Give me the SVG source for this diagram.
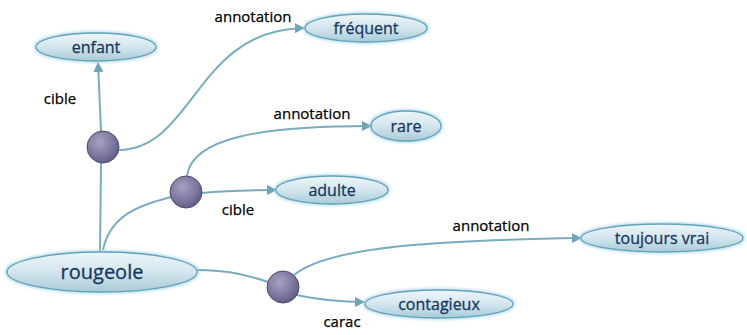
<svg xmlns="http://www.w3.org/2000/svg" width="747" height="335" viewBox="0 0 747 335">
<defs>
<linearGradient id="ng" x1="0" y1="0" x2="0" y2="1">
<stop offset="0" stop-color="#eef5f9"/>
<stop offset="0.5" stop-color="#d3e6ee"/>
<stop offset="1" stop-color="#a9cbd8"/>
</linearGradient>
<radialGradient id="hg" cx="0.4" cy="0.35" r="0.7">
<stop offset="0" stop-color="#a5a2c2"/>
<stop offset="0.6" stop-color="#7d799f"/>
<stop offset="1" stop-color="#5c5880"/>
</radialGradient>
<filter id="glow" x="-20%" y="-40%" width="140%" height="180%">
<feGaussianBlur in="SourceAlpha" stdDeviation="2"/>
<feFlood flood-color="#9fd0e6" flood-opacity="0.8"/>
<feComposite operator="in" in2="SourceAlpha"/>
<feMorphology operator="dilate" radius="1"/>
<feGaussianBlur stdDeviation="1.5"/>
<feMerge><feMergeNode/><feMergeNode in="SourceGraphic"/></feMerge>
</filter>
<marker id="arr" viewBox="0 0 10 10" refX="9" refY="5" markerWidth="5" markerHeight="5" orient="auto" markerUnits="strokeWidth">
<path d="M0,0 L10,5 L0,10 z" fill="#6fa3b6"/>
</marker>
</defs>
<style>
.node ellipse{fill:url(#ng);stroke:#62a2bb;stroke-width:1.3;filter:url(#glow)}
.node text{font-family:"Open Sans","Liberation Sans",sans-serif;font-size:16px;fill:#17375e;stroke:#17375e;stroke-width:0.3;text-anchor:middle}
.hub circle{fill:url(#hg);stroke:#4f4b70;stroke-width:1}
.conn path{fill:none;stroke:#78adbf;stroke-width:2}
.conn path.a{marker-end:url(#arr)}
.lbl{font-family:"Open Sans","Liberation Sans",sans-serif;font-size:15px;fill:#000;stroke:#000;stroke-width:0.25;text-anchor:middle}
</style>
<rect width="747" height="335" fill="#ffffff"/>
<g id="connectors" class="conn">
<path d="M100,252 L101,163"/>
<path class="a" d="M101,131 L98,63"/>
<path class="a" d="M119,150 C195,148 195,30 304,28"/>
<path d="M103,250 C110,215 140,205 171,197"/>
<path class="a" d="M187,176 C192,138 260,126 371,126"/>
<path class="a" d="M202,193 C230,190 250,190 276,190"/>
<path d="M196,270 C230,270 250,276 268,282"/>
<path class="a" d="M294,275 C330,245 450,240 581,238"/>
<path class="a" d="M296,295 C320,300 340,302 364,302"/>
</g>
<g id="labels">
<text class="lbl" x="60" y="104">cible</text>
<text class="lbl" x="253" y="22">annotation</text>
<text class="lbl" x="312" y="119">annotation</text>
<text class="lbl" x="238" y="215">cible</text>
<text class="lbl" x="491" y="231">annotation</text>
<text class="lbl" x="342" y="327">carac</text>
</g>
<g id="node-rougeole" class="node"><ellipse cx="102" cy="272" rx="95" ry="20"/><text x="102" y="279" style="font-size:20px">rougeole</text></g>
<g id="node-enfant" class="node"><ellipse cx="96" cy="47" rx="60" ry="14"/><text x="96" y="53">enfant</text></g>
<g id="node-frequent" class="node"><ellipse cx="366" cy="28" rx="61" ry="14"/><text x="366" y="34">fréquent</text></g>
<g id="node-rare" class="node"><ellipse cx="406" cy="126" rx="35" ry="15"/><text x="406" y="132">rare</text></g>
<g id="node-adulte" class="node"><ellipse cx="332" cy="190" rx="56" ry="14"/><text x="332" y="196">adulte</text></g>
<g id="node-toujours" class="node"><ellipse cx="662" cy="238" rx="81" ry="14"/><text x="662" y="244">toujours vrai</text></g>
<g id="node-contagieux" class="node"><ellipse cx="439" cy="304" rx="74" ry="14"/><text x="439" y="310">contagieux</text></g>
<g id="hub1" class="hub"><circle cx="103" cy="147" r="16"/></g>
<g id="hub2" class="hub"><circle cx="186" cy="192" r="16"/></g>
<g id="hub3" class="hub"><circle cx="283" cy="287" r="16"/></g>
</svg>
